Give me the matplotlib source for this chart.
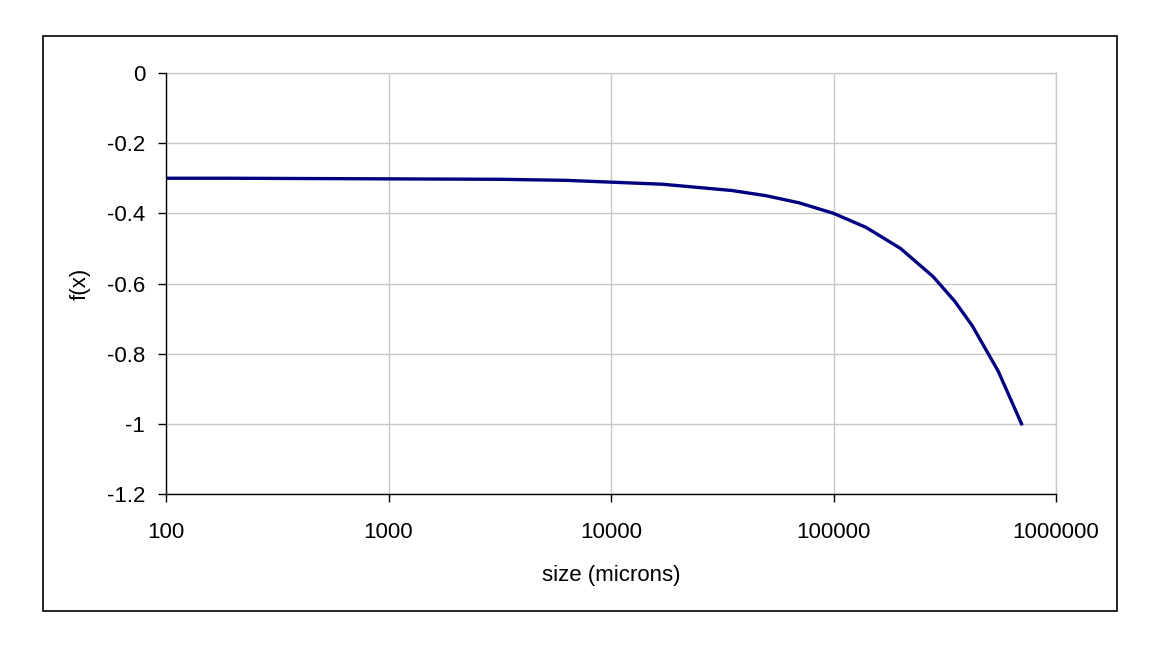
import matplotlib.pyplot as plt
from matplotlib.patches import Rectangle
from matplotlib.ticker import FixedLocator, FuncFormatter, NullLocator

plt.rcParams['font.family'] = ['Liberation Sans', 'DejaVu Sans']
plt.rcParams['axes.unicode_minus'] = False

# values
size_microns = [100, 200, 3200, 6300, 17000, 35000, 50000, 70000, 100000,
                140000, 200000, 280000, 350000, 420000, 550000, 700000]
fx = [-0.300, -0.300, -0.303, -0.306, -0.317, -0.335, -0.350, -0.370, -0.400,
      -0.440, -0.500, -0.580, -0.650, -0.720, -0.850, -1.000]

x_ticks = [100, 1000, 10000, 100000, 1000000]
y_ticks = [0, -0.2, -0.4, -0.6, -0.8, -1, -1.2]

W, H = 1157, 647
fig = plt.figure(figsize=(W / 100, H / 100), dpi=100)
ax = fig.add_axes([166 / W, 1 - 494 / H, (1056 - 166) / W, (494 - 73) / H])

# chart-area border
fig.add_artist(Rectangle((43 / W, 1 - 611 / H), (1117 - 43) / W, (611 - 36) / H,
                         transform=fig.transFigure, fill=False,
                         edgecolor='black', linewidth=1.2))

ax.plot(size_microns, fx, color='#000080', linewidth=2.4, zorder=3,
        solid_joinstyle='round')

ax.set_xscale('log')
ax.set_xlim(100, 1000000)
ax.set_ylim(-1.2, 0)
ax.xaxis.set_major_locator(FixedLocator(x_ticks))
ax.xaxis.set_minor_locator(NullLocator())
ax.xaxis.set_major_formatter(FuncFormatter(lambda v, p: '%d' % round(v)))
ax.yaxis.set_major_locator(FixedLocator(y_ticks))
ax.yaxis.set_major_formatter(FuncFormatter(lambda v, p: '%g' % round(v, 1)))

ax.grid(True, color='#c8c8c8', linewidth=1.0, zorder=0)
ax.set_axisbelow(True)
for side in ('top', 'right'):
    ax.spines[side].set_color('#c8c8c8')
    ax.spines[side].set_linewidth(1.0)
for side in ('left', 'bottom'):
    ax.spines[side].set_linewidth(1.0)
    ax.spines[side].set_color('black')
    ax.spines[side].set_zorder(4)

ax.tick_params(axis='both', which='major', direction='out', length=6,
               width=1.0, labelsize=16, colors='black')
ax.tick_params(axis='x', pad=14)
ax.tick_params(axis='y', pad=9)

ax.set_xlabel('size (microns)', fontsize=16)
ax.set_ylabel('f(x)', fontsize=16)
ax.xaxis.set_label_coords(0.5, (494 - 575) / (494 - 73))
ax.xaxis.label.set_va('center')
ax.yaxis.set_label_coords((80 - 166) / (1056 - 166), 0.5)
ax.yaxis.label.set_va('center')
ax.yaxis.label.set_ha('center')

fig.savefig('out.png', dpi=100)
